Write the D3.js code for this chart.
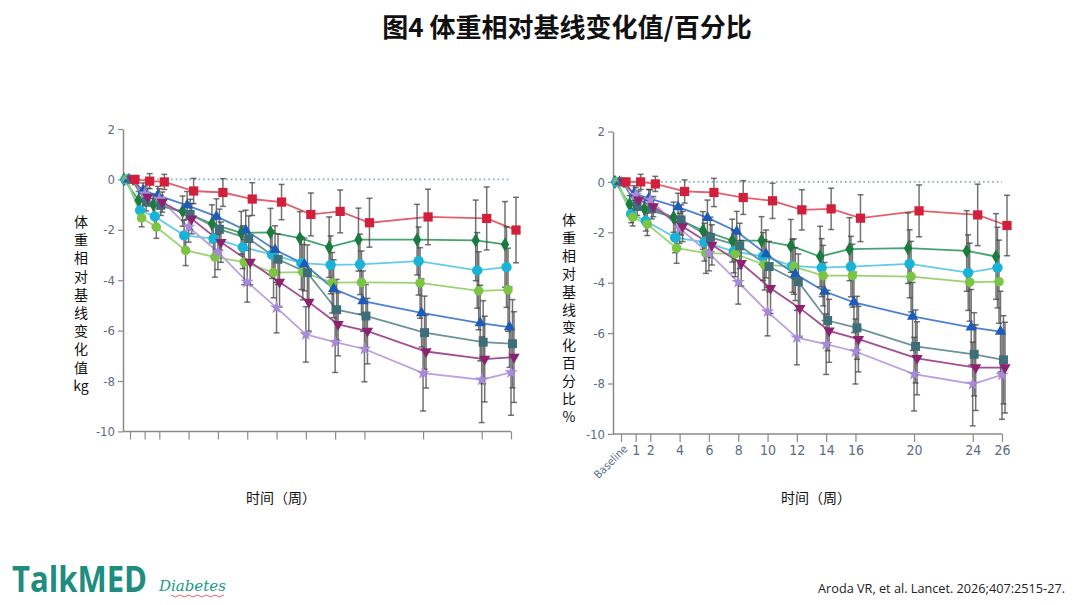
<!DOCTYPE html>
<html>
<head>
<meta charset="utf-8">
<script src="https://cdn.jsdelivr.net/npm/d3@7"></script>
<style>
  body { margin: 0; background: #fff; }
  svg { display: block; }
</style>
</head>
<body>
<div id="chart"></div>
<script>
// weeks on the x axis
const weeks = [0, 1, 2, 4, 6, 8, 10, 12, 14, 16, 20, 24, 26];
const weekLabels = ["Baseline", "1", "2", "4", "6", "8", "10", "12", "14", "16", "20", "24", "26"];
const yTicks = [2, 0, -2, -4, -6, -8, -10];

// left panel: change in kg
const kgRed      = [0, -0.07, -0.1, -0.46, -0.52, -0.78, -0.9, -1.39, -1.27, -1.72, -1.49, -1.55, -2.01];
const kgDGreen   = [0, -0.83, -1.0, -1.26, -1.76, -2.12, -2.1, -2.33, -2.69, -2.39, -2.39, -2.42, -2.58];
const kgCyan     = [0, -1.23, -1.47, -2.22, -2.35, -2.69, -2.98, -3.32, -3.39, -3.37, -3.24, -3.61, -3.48];
const kgLGreen   = [0, -1.53, -1.89, -2.82, -3.08, -3.28, -3.7, -3.68, -4.1, -4.09, -4.11, -4.42, -4.38];
const kgBlue     = [0, -0.44, -0.63, -1.03, -1.47, -2.02, -2.79, -3.37, -4.34, -4.83, -5.3, -5.7, -5.86];
const kgSlate    = [0, -0.9, -1.03, -1.39, -1.98, -2.35, -3.17, -3.7, -5.17, -5.42, -6.08, -6.46, -6.52];
const kgPurple   = [0, -0.7, -0.9, -1.56, -2.49, -3.28, -4.07, -4.87, -5.75, -6.02, -6.83, -7.13, -7.05];
const kgLavender = [0, -0.57, -0.77, -1.89, -2.88, -4.07, -5.09, -6.15, -6.46, -6.73, -7.69, -7.95, -7.66];

const kgErrRed      = [0, 0.3, 0.3, 0.5, 0.55, 0.65, 0.7, 0.85, 0.85, 0.97, 1.1, 1.25, 1.3];
const kgErrDGreen   = [0, 0.35, 0.4, 0.6, 0.75, 0.85, 0.95, 1.05, 1.2, 1.25, 1.4, 1.6, 1.7];
const kgErrCyan     = [0, 0.35, 0.4, 0.6, 0.75, 0.85, 0.95, 1.05, 1.15, 1.2, 1.35, 1.5, 1.6];
const kgErrLGreen   = [0, 0.35, 0.45, 0.6, 0.8, 0.9, 1.0, 1.1, 1.2, 1.25, 1.4, 1.55, 1.65];
const kgErrBlue     = [0, 0.3, 0.35, 0.55, 0.7, 0.8, 0.95, 1.05, 1.15, 1.2, 1.35, 1.5, 1.6];
const kgErrSlate    = [0, 0.35, 0.4, 0.6, 0.8, 0.9, 1.0, 1.1, 1.2, 1.25, 1.45, 1.65, 1.75];
const kgErrPurple   = [0, 0.35, 0.4, 0.6, 0.8, 0.9, 1.0, 1.15, 1.25, 1.3, 1.45, 1.7, 1.8];
const kgErrLavender = [0, 0.3, 0.4, 0.6, 0.7, 0.8, 1.0, 1.1, 1.2, 1.3, 1.5, 1.7, 1.7];

// right panel: change in percent
const pcRed      = [0, 0, -0.08, -0.38, -0.42, -0.62, -0.75, -1.11, -1.07, -1.44, -1.15, -1.31, -1.73];
const pcDGreen   = [0, -0.89, -1.07, -1.4, -1.93, -2.33, -2.33, -2.54, -2.96, -2.67, -2.63, -2.74, -2.96];
const pcCyan     = [0, -1.27, -1.55, -2.21, -2.39, -2.76, -2.96, -3.33, -3.4, -3.36, -3.25, -3.6, -3.4];
const pcLGreen   = [0, -1.4, -1.68, -2.63, -2.83, -2.86, -3.29, -3.36, -3.72, -3.72, -3.76, -3.98, -3.96];
const pcBlue     = [0, -0.45, -0.65, -1.0, -1.42, -1.97, -2.86, -3.66, -4.35, -4.78, -5.34, -5.77, -5.94];
const pcSlate    = [0, -0.98, -1.07, -1.51, -2.2, -2.54, -3.36, -3.96, -5.5, -5.79, -6.53, -6.84, -7.06];
const pcPurple   = [0, -0.71, -0.98, -1.77, -2.5, -3.23, -4.22, -5.01, -5.91, -6.24, -7.0, -7.37, -7.37];
const pcLavender = [0, -0.52, -0.71, -1.84, -2.83, -3.98, -5.15, -6.18, -6.44, -6.73, -7.63, -8.02, -7.66];

const pcErrRed      = [0, 0.3, 0.3, 0.46, 0.56, 0.67, 0.7, 0.8, 0.82, 0.93, 1.03, 1.22, 1.2];
const pcErrDGreen   = [0, 0.35, 0.4, 0.6, 0.75, 0.85, 0.95, 1.05, 1.2, 1.25, 1.4, 1.6, 1.7];
const pcErrCyan     = [0, 0.35, 0.4, 0.6, 0.75, 0.85, 0.95, 1.05, 1.15, 1.2, 1.35, 1.5, 1.6];
const pcErrLGreen   = [0, 0.35, 0.45, 0.6, 0.8, 0.9, 1.0, 1.1, 1.2, 1.25, 1.4, 1.55, 1.65];
const pcErrBlue     = [0, 0.3, 0.35, 0.55, 0.7, 0.8, 0.95, 1.05, 1.15, 1.2, 1.35, 1.5, 1.6];
const pcErrSlate    = [0, 0.35, 0.4, 0.6, 0.8, 0.9, 1.0, 1.1, 1.2, 1.25, 1.45, 1.65, 1.75];
const pcErrPurple   = [0, 0.35, 0.4, 0.6, 0.8, 0.9, 1.0, 1.15, 1.25, 1.3, 1.45, 1.7, 1.8];
const pcErrLavender = [0, 0.3, 0.4, 0.6, 0.7, 0.87, 0.96, 1.08, 1.2, 1.29, 1.46, 1.66, 1.76];

// look of each series: marker colour, line colour, symbol, horizontal dodge
const styles = [
    { marker: "#1b7a3e", line: "#45a36e", sym: d3.symbolDiamond, size: 60, dx: -6 },
    { marker: "#19b3d8", line: "#62cce6", sym: d3.symbolCircle, size: 85, dx: -4.5 },
    { marker: "#7cc444", line: "#9cd274", sym: d3.symbolCircle, size: 72, dx: -3 },
    { marker: "#1c5cb8", line: "#4c82d0", sym: d3.symbolTriangle, size: 55, dx: -1.5 },
    { marker: "#a88ad8", line: "#b9a2e0", sym: d3.symbolStar, size: 55, dx: 0 },
    { marker: "#3e6f78", line: "#6c9399", sym: d3.symbolSquare, size: 80, dx: 1.5 },
    { marker: "#8c2272", line: "#a44c92", sym: d3.symbolTriangle, size: 55, dx: 3, flip: true },
    { marker: "#d21f3c", line: "#e2606f", sym: d3.symbolSquare, size: 85, dx: 5 }
];

const kgSeries = [kgDGreen, kgCyan, kgLGreen, kgBlue, kgLavender, kgSlate, kgPurple, kgRed];
const kgErrors = [kgErrDGreen, kgErrCyan, kgErrLGreen, kgErrBlue, kgErrLavender, kgErrSlate, kgErrPurple, kgErrRed];
const pcSeries = [pcDGreen, pcCyan, pcLGreen, pcBlue, pcLavender, pcSlate, pcPurple, pcRed];
const pcErrors = [pcErrDGreen, pcErrCyan, pcErrLGreen, pcErrBlue, pcErrLavender, pcErrSlate, pcErrPurple, pcErrRed];

const svg = d3.select("#chart").append("svg")
    .attr("width", 1080)
    .attr("height", 605);

svg.append("rect").attr("width", 1080).attr("height", 605).attr("fill", "#fff");

svg.append("text")
    .attr("x", 567)
    .attr("y", 37)
    .attr("text-anchor", "middle")
    .attr("font-family", "'Noto Sans CJK SC', sans-serif")
    .attr("font-size", "26px")
    .attr("font-weight", "bold")
    .attr("fill", "#111")
    .text("图4 体重相对基线变化值/百分比");

function drawPanel(opts) {
    const xScale = d3.scaleLinear().domain([0, 26]).range([opts.x0, opts.x0 + 381]);
    const yScale = d3.scaleLinear().domain([2, -10]).range([opts.yTop, opts.yTop + 302.4]);
    const g = svg.append("g");

    // y axis
    const yAxis = g.append("g")
        .attr("transform", "translate(" + opts.axisX + ",0)")
        .call(d3.axisLeft(yScale).tickValues(yTicks).tickSize(5).tickSizeOuter(0).tickPadding(3)
            .tickFormat((d) => String(d)));
    yAxis.select(".domain").attr("stroke", "#8a8a8a").attr("stroke-width", 1.5);
    yAxis.selectAll(".tick line").attr("stroke", "#8a8a8a").attr("stroke-width", 1.2);
    yAxis.selectAll(".tick text")
        .attr("fill", "#5c6c82")
        .attr("font-family", "'DejaVu Sans Condensed', 'Liberation Sans Narrow', sans-serif")
        .attr("font-size", "13px");

    // x axis
    const xAxis = g.append("g")
        .attr("transform", "translate(0," + yScale(-10) + ")")
        .call(d3.axisBottom(xScale).tickValues(weeks).tickSize(8).tickSizeOuter(0).tickPadding(3)
            .tickFormat((d, i) => opts.labels ? weekLabels[i] : ""));
    xAxis.select(".domain").remove();
    xAxis.append("line")
        .attr("x1", opts.axisX).attr("x2", xScale(26))
        .attr("stroke", "#8a8a8a").attr("stroke-width", 1.5);
    xAxis.selectAll(".tick line").attr("stroke", "#8a8a8a").attr("stroke-width", 1.2);
    xAxis.selectAll(".tick text")
        .attr("fill", "#5c6c82")
        .attr("font-family", "'DejaVu Sans Condensed', 'Liberation Sans Narrow', sans-serif")
        .attr("font-size", "14px");
    xAxis.selectAll(".tick text")
        .filter((d) => d === 0)
        .attr("text-anchor", "end")
        .attr("font-size", "11px")
        .attr("x", 0)
        .attr("y", 0)
        .attr("dy", "0.35em")
        .attr("transform", "translate(4,13) rotate(-45)");

    // dotted zero line
    g.append("line")
        .attr("x1", opts.axisX + 2).attr("x2", xScale(26))
        .attr("y1", yScale(0)).attr("y2", yScale(0))
        .attr("stroke", "#8fa9b8")
        .attr("stroke-width", 1.6)
        .attr("stroke-dasharray", "1.6,3");

    const line = d3.line();

    // lines
    opts.series.forEach((vals, s) => {
        const st = styles[s];
        g.append("path")
            .datum(vals.map((v, i) => [xScale(weeks[i]) + st.dx, yScale(v)]))
            .attr("fill", "none")
            .attr("stroke", st.line)
            .attr("stroke-width", 1.8)
            .attr("d", line);
    });

    // error bars
    opts.series.forEach((vals, s) => {
        const st = styles[s];
        const errs = opts.errors[s];
        const bars = g.append("g")
            .selectAll("g")
            .data(vals.map((v, i) => ({ x: xScale(weeks[i]) + st.dx, v: v, e: errs[i] })).filter((d) => d.e > 0))
            .enter()
            .append("g")
            .attr("stroke", "#444")
            .attr("stroke-opacity", 0.75)
            .attr("stroke-width", 1.5);
        bars.append("line")
            .attr("x1", (d) => d.x).attr("x2", (d) => d.x)
            .attr("y1", (d) => yScale(d.v + d.e)).attr("y2", (d) => yScale(d.v - d.e));
        bars.append("line")
            .attr("x1", (d) => d.x - 3).attr("x2", (d) => d.x + 3)
            .attr("y1", (d) => yScale(d.v + d.e)).attr("y2", (d) => yScale(d.v + d.e));
        bars.append("line")
            .attr("x1", (d) => d.x - 3).attr("x2", (d) => d.x + 3)
            .attr("y1", (d) => yScale(d.v - d.e)).attr("y2", (d) => yScale(d.v - d.e));
    });

    // markers
    opts.series.forEach((vals, s) => {
        const st = styles[s];
        g.append("g")
            .selectAll("path")
            .data(vals)
            .enter()
            .append("path")
            .attr("d", d3.symbol().type(st.sym).size(st.size))
            .attr("fill", st.marker)
            .attr("transform", (v, i) => "translate(" + (xScale(weeks[i]) + st.dx) + "," + yScale(v) + ")" + (st.flip ? " rotate(180)" : ""));
    });

    // vertical y label, one character per line
    const yl = g.append("text")
        .attr("font-family", "'Noto Sans CJK SC', sans-serif")
        .attr("font-size", "14px")
        .attr("fill", "#111")
        .attr("text-anchor", "middle");
    opts.yLabel.forEach((c, i) => {
        yl.append("tspan")
            .attr("x", opts.yLabelX)
            .attr("y", opts.yLabelY + i * opts.yLabelStep)
            .text(c);
    });

    g.append("text")
        .attr("x", opts.xLabelX)
        .attr("y", 503)
        .attr("text-anchor", "middle")
        .attr("font-family", "'Noto Sans CJK SC', sans-serif")
        .attr("font-size", "14px")
        .attr("fill", "#111")
        .text("时间（周）");
}

drawPanel({
    x0: 130, axisX: 123, yTop: 129,
    series: kgSeries, errors: kgErrors, labels: false,
    yLabel: ["体", "重", "相", "对", "基", "线", "变", "化", "值", "kg"],
    yLabelX: 81, yLabelY: 227, yLabelStep: 18.2,
    xLabelX: 281
});

drawPanel({
    x0: 621, axisX: 613, yTop: 131.5,
    series: pcSeries, errors: pcErrors, labels: true,
    yLabel: ["体", "重", "相", "对", "基", "线", "变", "化", "百", "分", "比", "%"],
    yLabelX: 569, yLabelY: 225, yLabelStep: 17.9,
    xLabelX: 816
});

// footer
svg.append("text")
    .attr("x", 12)
    .attr("y", 592)
    .attr("font-family", "'Open Sans', sans-serif")
    .attr("font-weight", "bold")
    .attr("font-size", "35px")
    .attr("textLength", 135)
    .attr("lengthAdjust", "spacingAndGlyphs")
    .attr("fill", "#1f8c80")
    .text("TalkMED");

svg.append("text")
    .attr("x", 159)
    .attr("y", 591)
    .attr("font-family", "'DejaVu Serif', serif")
    .attr("font-style", "italic")
    .attr("font-size", "15px")
    .attr("fill", "#1a9a8a")
    .text("Diabetes");

svg.append("path")
    .attr("d", d3.range(0, 13).map((i) => (i === 0 ? "M" : "L") + (171 + i * 4.4) + "," + (i % 2 ? 597 : 595)).join(""))
    .attr("fill", "none")
    .attr("stroke", "#e03a3a")
    .attr("stroke-width", 0.8);

svg.append("text")
    .attr("x", 1065)
    .attr("y", 593)
    .attr("text-anchor", "end")
    .attr("font-family", "'Open Sans', sans-serif")
    .attr("font-size", "12.7px")
    .attr("fill", "#222")
    .text("Aroda VR, et al. Lancet. 2026;407:2515-27.");
</script>
</body>
</html>
